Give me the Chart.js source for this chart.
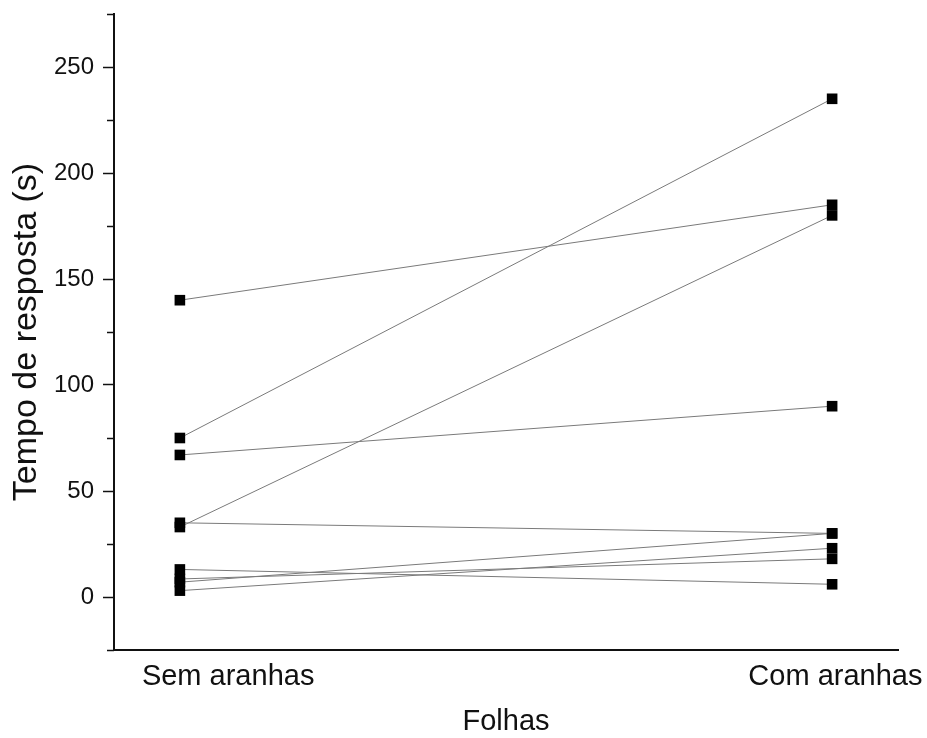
<!DOCTYPE html>
<html>
<head>
<meta charset="utf-8">
<script src="https://cdn.jsdelivr.net/npm/chart.js@4"></script>
<style>
  html, body { margin: 0; padding: 0; background: #fff; }
  #wrap { width: 927px; height: 738px; }
</style>
</head>
<body>
<div id="wrap"><canvas id="chart"></canvas></div>
<script>
// Categories (x) and paired response times (s), one pair per leaf
const categories = ['Sem aranhas', 'Com aranhas'];
const semAranhas = [140, 75, 67, 33, 35, 13, 8.5, 7, 3];
const comAranhas = [185, 235, 90, 180, 30, 6, 18, 30, 23];
const yMajorTicks = [0, 50, 100, 150, 200, 250];
const yMinorTicks = [-25, 25, 75, 125, 175, 225, 275];

const FONT = "'Liberation Sans', Arial, sans-serif";

const datasets = semAranhas.map((v, i) => ({
  data: [{ x: 0, y: v }, { x: 1, y: comAranhas[i] }],
  borderColor: '#7a7a7a',
  borderWidth: 1,
  pointStyle: 'rect',
  pointRadius: 7.5,
  pointBackgroundColor: '#000',
  pointBorderWidth: 0,
}));

// short minor ticks on the y axis
const minorTicks = {
  id: 'minorTicks',
  afterDraw(chart) {
    const y = chart.scales.y;
    const ctx = chart.ctx;
    ctx.save();
    ctx.strokeStyle = '#111';
    ctx.lineWidth = 1.5;
    yMinorTicks.forEach(v => {
      const py = Math.round(y.getPixelForValue(v)) + 0.5;
      ctx.beginPath();
      ctx.moveTo(y.right - 7, py);
      ctx.lineTo(y.right, py);
      ctx.stroke();
    });
    ctx.restore();
  }
};

new Chart(document.getElementById('chart'), {
  type: 'line',
  data: { datasets },
  plugins: [minorTicks],
  options: {
    responsive: true,
    maintainAspectRatio: false,
    animation: false,
    layout: { padding: { top: 14, right: 29, left: 0, bottom: 0 } },
    plugins: { legend: { display: false }, tooltip: { enabled: false } },
    scales: {
      x: {
        type: 'linear',
        min: -0.101,
        max: 1.101,
        afterBuildTicks: s => { s.ticks = [{ value: 0.074 }, { value: 1.005 }]; },
        afterFit: s => { s.height = 88; s.paddingLeft = 0; s.paddingRight = 0; },
        grid: { display: true, drawOnChartArea: false, drawTicks: false },
        border: { display: true, color: '#111', width: 2 },
        ticks: {
          autoSkip: false,
          maxRotation: 0,
          padding: 10,
          color: '#111',
          font: { family: FONT, size: 29 },
          callback: (v, i) => categories[i],
        },
        title: {
          display: true,
          text: 'Folhas',
          color: '#111',
          font: { family: FONT, size: 29, lineHeight: 1.1 },
          padding: { top: 0, bottom: 0 },
        },
      },
      y: {
        min: -25,
        max: 275,
        afterBuildTicks: s => { s.ticks = yMajorTicks.map(v => ({ value: v })); },
        afterFit: s => { s.width = 114; s.paddingTop = 0; s.paddingBottom = 0; },
        grid: { display: true, drawOnChartArea: false, tickLength: 11, tickColor: '#111', tickWidth: 1.5 },
        border: { display: true, color: '#111', width: 2 },
        ticks: {
          padding: 9,
          color: '#111',
          font: { family: FONT, size: 24 },
        },
        title: {
          display: true,
          text: 'Tempo de resposta (s)',
          color: '#111',
          font: { family: FONT, size: 34, lineHeight: 1.2 },
          padding: { top: 6, bottom: 0 },
        },
      },
    },
  },
});
</script>
</body>
</html>
